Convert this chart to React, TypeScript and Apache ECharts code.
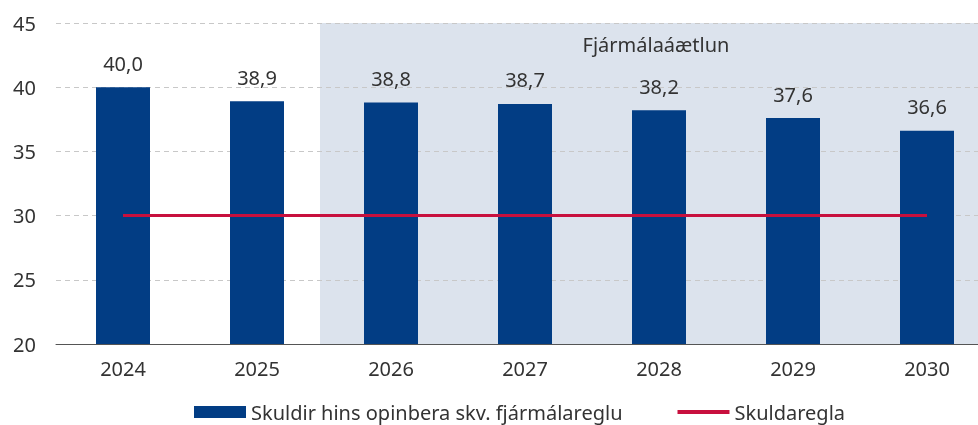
import React, { useEffect, useRef } from "react";
import * as echarts from "echarts";

const categories = ["2024", "2025", "2026", "2027", "2028", "2029", "2030"];
const debtValues = [40.0, 38.9, 38.8, 38.7, 38.2, 37.6, 36.6];
const debtRule = [30, 30, 30, 30, 30, 30, 30];
const yTicks = { min: 20, max: 45, interval: 5 };
const planStart = "2026";
const planLabel = "Fjármálaáætlun";
const barName = "Skuldir hins opinbera skv. fjármálareglu";
const lineName = "Skuldaregla";

const FONT = "'Noto Sans', 'Open Sans', sans-serif";
const TEXT = "#333333";
const FS = 20;

export default function App() {
  const ref = useRef<HTMLDivElement>(null);
  useEffect(() => {
    if (!ref.current) return;
    const chart = echarts.init(ref.current, undefined, { renderer: "svg" });
    const option: any = {
      animation: false,
      textStyle: { fontFamily: FONT },
      grid: { left: 56, width: 938, top: 23, height: 321, outerBoundsMode: "none", containLabel: false },
      xAxis: {
        type: "category",
        data: categories,
        axisLine: { show: true, lineStyle: { color: "#555555", width: 1 } },
        axisTick: { show: false },
        axisLabel: { color: TEXT, fontSize: FS, margin: 14, fontFamily: FONT },
      },
      yAxis: {
        type: "value",
        min: yTicks.min,
        max: yTicks.max,
        interval: yTicks.interval,
        axisLine: { show: false },
        axisTick: { show: false },
        axisLabel: { color: TEXT, fontSize: FS, margin: 20, fontFamily: FONT },
        splitLine: { show: true, lineStyle: { color: "#c8c8c8", type: [5, 4], width: 1 } },
      },
      legend: {
        top: 402,
        left: 194,
        padding: 0,
        itemGap: 55,
        itemWidth: 52,
        itemHeight: 12,
        textStyle: { color: TEXT, fontSize: FS, fontFamily: FONT },
        data: [
          { name: barName, icon: "rect" },
          { name: lineName, icon: "path://M0 0H130V10H0Z" },
        ],
      },
      series: [
        {
          name: barName,
          type: "bar",
          data: debtValues,
          barWidth: 54,
          itemStyle: { color: "#023d84" },
          label: {
            show: true,
            position: "top",
            distance: 14,
            color: TEXT,
            fontSize: FS,
            fontFamily: FONT,
            formatter: (p: any) => Number(p.value).toFixed(1).replace(".", ","),
          },
        },
        {
          name: lineName,
          type: "line",
          data: debtRule,
          symbol: "none",
          lineStyle: { color: "#c8103e", width: 3 },
          itemStyle: { color: "#c8103e" },
          z: 3,
        },
      ],
    };
    chart.setOption(option);

    const idx = categories.indexOf(planStart);
    const xPrev = chart.convertToPixel({ xAxisIndex: 0 }, categories[idx - 1]) as number;
    const xCur = chart.convertToPixel({ xAxisIndex: 0 }, categories[idx]) as number;
    const xMidCat = chart.convertToPixel({ xAxisIndex: 0 }, categories[Math.floor((idx + categories.length - 1) / 2)]) as number;
    const yTop = chart.convertToPixel({ yAxisIndex: 0 }, yTicks.max) as number;
    const yBot = chart.convertToPixel({ yAxisIndex: 0 }, yTicks.min) as number;
    const x0 = (xPrev + xCur) / 2 - 4;
    const width = ref.current.clientWidth;

    chart.setOption({
      graphic: {
        elements: [
          {
            type: "rect",
            z: -10,
            silent: true,
            shape: { x: x0, y: yTop, width: width - x0, height: yBot - yTop },
            style: { fill: "#dce3ed" },
          },
          {
            type: "text",
            z: 10,
            x: xMidCat - 3,
            y: yTop + 21,
            style: {
              text: planLabel,
              fill: TEXT,
              font: `${FS}px ${FONT}`,
              textAlign: "center",
              textVerticalAlign: "middle",
            },
          },
        ],
      },
    });

    return () => chart.dispose();
  }, []);
  return (
    <div
      ref={ref}
      style={{ position: "fixed", left: 0, top: 0, width: 978, height: 425 }}
    />
  );
}
